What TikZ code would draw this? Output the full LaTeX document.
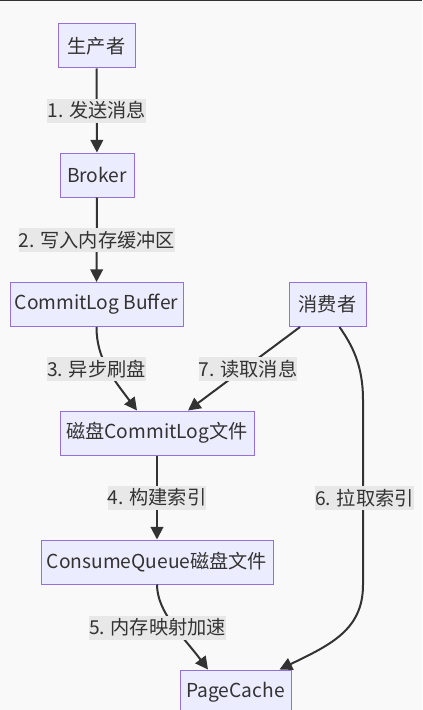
\documentclass[tikz,border=0pt]{standalone}
\usepackage{fontspec}
\setmainfont{Noto Sans CJK SC}
\usetikzlibrary{arrows.meta,calc}

\definecolor{boxfill}{HTML}{ECECFF}
\definecolor{boxline}{HTML}{9370DB}
\definecolor{ink}{HTML}{333333}
\definecolor{lblfill}{HTML}{E8E8E8}
\definecolor{canvas}{HTML}{F9F9F9}

\begin{document}
\begin{tikzpicture}[
    x = 0.75pt,
    y = -0.75pt,
    font = \fontsize{14.4pt}{17pt}\selectfont,
    text = ink,
    box/.style = {
      draw = boxline,
      fill = boxfill,
      line width = 0.75pt,
      minimum height = 33pt,
      inner sep = 0pt
    },
    lbl/.style = {
      fill = lblfill,
      minimum height = 18pt,
      inner xsep = 0pt,
      inner ysep = 0pt
    },
    arr/.style = {
      draw = ink,
      line width = 1.5pt,
      -{Triangle[length=9.5pt,width=9.5pt]}
    }
  ]
  \fill[canvas] (0,0) rectangle (422,710);
  \useasboundingbox (0,0) rectangle (422,710);
  \draw[ink, line width=1.5pt] (0,0) -- (422,0);

  % boxes
  \node[box, minimum width=57.75pt]  (prod)   at (96.5,46)    {生产者};
  \node[box, minimum width=55.5pt]   (broker) at (97,175)     {Broker};
  \node[box, minimum width=129.75pt] (buf)    at (96.5,304.5) {CommitLog Buffer};
  \node[box, minimum width=57.75pt]  (cons)   at (327.5,304.5){消费者};
  \node[box, minimum width=145.5pt]  (disk)   at (157,433)    {磁盘CommitLog文件};
  \node[box, minimum width=174pt]    (cq)     at (157,562)    {ConsumeQueue磁盘文件};
  \node[box, minimum width=83.25pt]  (pc)     at (235.5,692)  {PageCache};

  % straight flows
  \draw[arr] (prod) -- node[lbl] (l1) {1. 发送消息} (broker);
  \draw[arr] (broker) -- node[lbl] (l2) {2. 写入内存缓冲区} (buf);
  \draw[arr] (disk) -- node[lbl] (l4) {4. 构建索引} (cq);
  \draw[arr] ($(cons.south)+(-27.5,0)$) -- node[lbl, xshift=3pt] (l7) {7. 读取消息} ($(disk.north)+(31,0)$);

  % curved flows
  \draw[arr] (buf.south) .. controls +(0,32) and +(-24,-32) .. ($(disk.north)+(-20,0)$);
  \draw[arr] (cq.south) .. controls +(0,28) and +(-24,-32) .. ($(pc.north)+(-27.5,0)$);
  \draw[arr] ($(cons.south)+(12,0)$) .. controls (352,345) and (363,365) .. (363,400)
    -- (363,585) .. controls (363,630) and (330,645) .. ($(pc.north)+(44,0)$);

  \node[lbl] (l3) at (96.5,369)   {3. 异步刷盘};
  \node[lbl] (l5) at (157.5,627.5) {5. 内存映射加速};
  \node[lbl] (l6) at (364.5,498)  {6. 拉取索引};
\end{tikzpicture}
\end{document}
